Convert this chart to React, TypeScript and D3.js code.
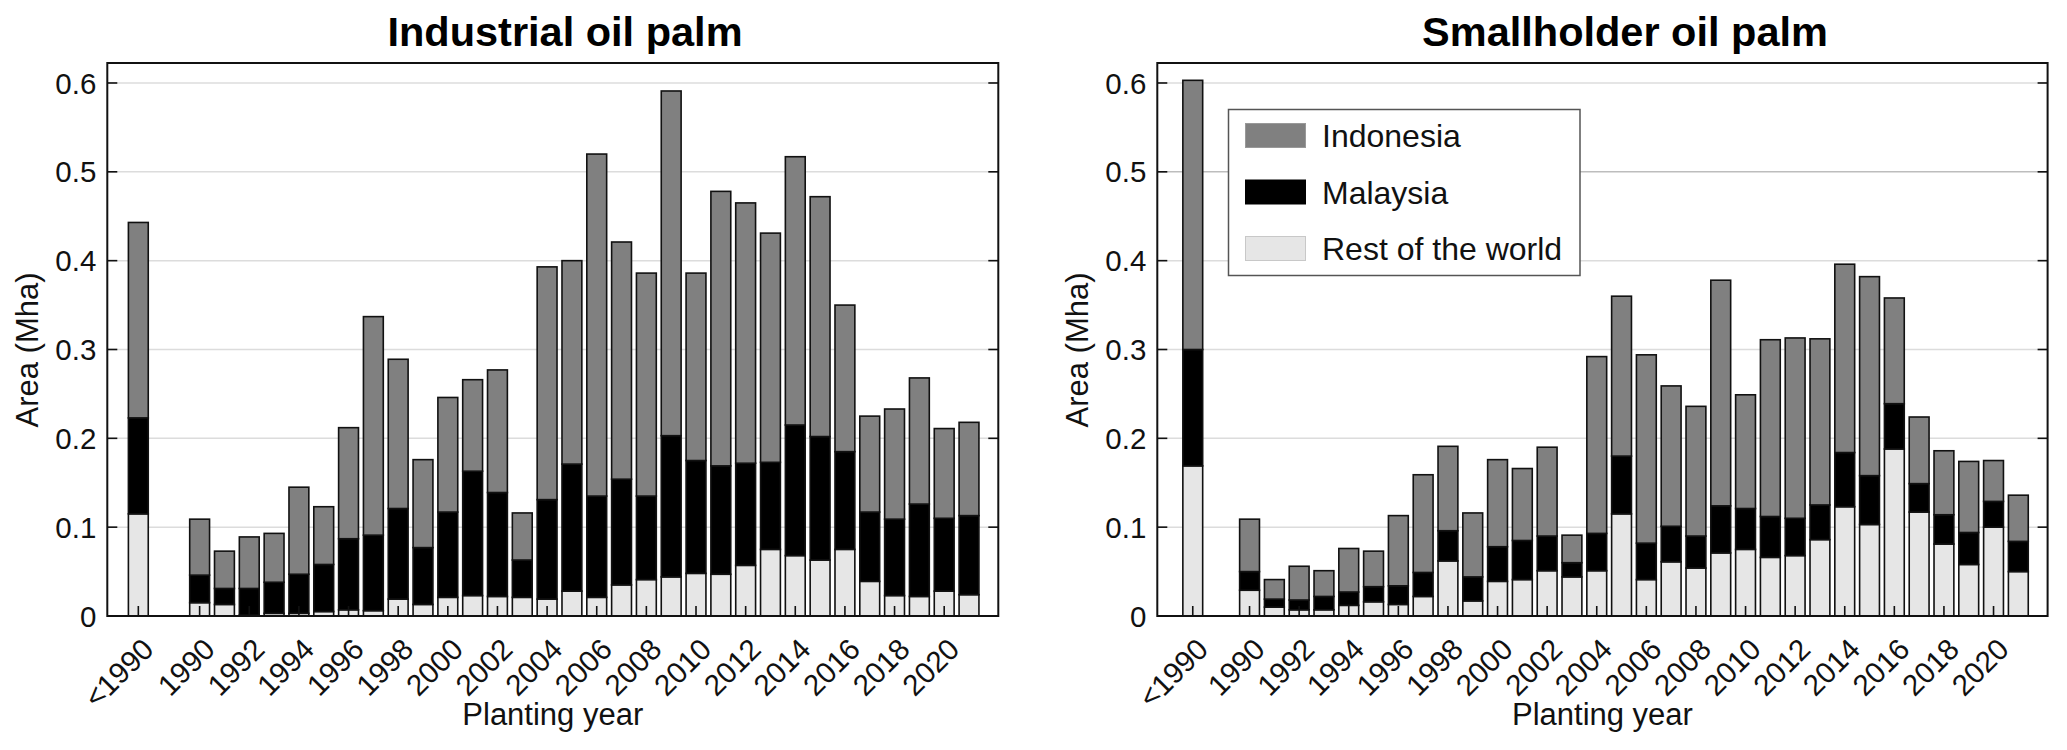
import React from "react";
import * as d3 from "d3";

const years = ["<1990", ...d3.range(1990, 2022).map(String)];
const tickYears = ["<1990", ...d3.range(1990, 2021, 2).map(String)];
const yTicks = [0, 0.1, 0.2, 0.3, 0.4, 0.5, 0.6];
const seriesNames = ["Indonesia", "Malaysia", "Rest of the world"];

const indRest = [0.115, 0.015, 0.013, 0.001, 0.003, 0.003, 0.005, 0.007, 0.006, 0.019, 0.013, 0.021, 0.023, 0.022, 0.021, 0.019, 0.028, 0.021, 0.035, 0.041, 0.044, 0.048, 0.047, 0.057, 0.075, 0.068, 0.063, 0.075, 0.039, 0.023, 0.022, 0.028, 0.024];
const indMalaysia = [0.108, 0.031, 0.018, 0.030, 0.035, 0.044, 0.053, 0.080, 0.085, 0.102, 0.064, 0.096, 0.140, 0.117, 0.042, 0.112, 0.143, 0.114, 0.119, 0.094, 0.159, 0.127, 0.122, 0.115, 0.098, 0.147, 0.139, 0.110, 0.078, 0.086, 0.104, 0.082, 0.089];
const indIndonesia = [0.220, 0.063, 0.042, 0.058, 0.055, 0.098, 0.065, 0.125, 0.246, 0.168, 0.099, 0.129, 0.103, 0.138, 0.053, 0.262, 0.229, 0.385, 0.267, 0.251, 0.388, 0.211, 0.309, 0.293, 0.258, 0.302, 0.270, 0.165, 0.108, 0.124, 0.142, 0.101, 0.105];

const smRest = [0.169, 0.029, 0.010, 0.007, 0.007, 0.012, 0.016, 0.013, 0.022, 0.062, 0.017, 0.039, 0.041, 0.051, 0.044, 0.051, 0.115, 0.041, 0.061, 0.054, 0.071, 0.075, 0.066, 0.068, 0.086, 0.123, 0.103, 0.188, 0.117, 0.081, 0.058, 0.100, 0.050];
const smMalaysia = [0.131, 0.021, 0.009, 0.011, 0.015, 0.015, 0.017, 0.021, 0.027, 0.034, 0.027, 0.039, 0.044, 0.039, 0.016, 0.042, 0.065, 0.041, 0.040, 0.036, 0.053, 0.046, 0.046, 0.042, 0.039, 0.061, 0.055, 0.051, 0.032, 0.033, 0.036, 0.029, 0.034];
const smIndonesia = [0.303, 0.059, 0.022, 0.038, 0.029, 0.049, 0.040, 0.079, 0.110, 0.095, 0.072, 0.098, 0.081, 0.100, 0.031, 0.199, 0.180, 0.212, 0.158, 0.146, 0.254, 0.128, 0.199, 0.203, 0.187, 0.212, 0.224, 0.119, 0.075, 0.072, 0.080, 0.046, 0.052];

const COLORS: Record<string, string> = {
  Indonesia: "#808080",
  Malaysia: "#000000",
  "Rest of the world": "#e6e6e6",
};

const FONT = "'Liberation Sans', Arial, Helvetica, sans-serif";
const TICK_FS = 29.5;
const LABEL_FS = 31;

type PanelProps = {
  title: string;
  rest: number[];
  mal: number[];
  indo: number[];
  left: number;
  right: number;
  prePos: number;
  titleX: number;
  legend?: boolean;
  darkGrid?: number;
};

function Panel({ title, rest, mal, indo, left, right, prePos, titleX, legend, darkGrid }: PanelProps) {
  const top = 63;
  const bottom = 616;
  const pos = (k: string) => (k === "<1990" ? prePos : +k);
  const x = d3.scaleLinear().domain([1986.28, 2022.18]).range([left, right]);
  const y = d3.scaleLinear().domain([0, 0.6225]).range([bottom, top]);
  const bw = x(1990.8) - x(1990);

  const rows = years.map((k, i) => ({
    key: k,
    "Rest of the world": rest[i],
    Malaysia: mal[i],
    Indonesia: indo[i],
  }));
  const stack = d3
    .stack<any>()
    .keys(["Rest of the world", "Malaysia", "Indonesia"])(rows);

  const cx = (left + right) / 2;

  return (
    <g>
      {yTicks.filter((t) => t > 0).map((t) => (
        <line
          key={"g" + t}
          x1={left}
          x2={right}
          y1={y(t)}
          y2={y(t)}
          stroke={darkGrid === t ? "#bdbdbd" : "#dcdcdc"}
          strokeWidth={1.5}
        />
      ))}
      {stack.map((layer) => (
        <g key={layer.key}>
          {layer.map((d, i) => (
            <rect
              key={i}
              x={x(pos(years[i])) - bw / 2}
              y={y(d[1])}
              width={bw}
              height={Math.max(0, y(d[0]) - y(d[1]))}
              fill={COLORS[layer.key]}
              stroke="#111"
              strokeWidth={1.6}
            />
          ))}
        </g>
      ))}
      <rect x={left} y={top} width={right - left} height={bottom - top} fill="none" stroke="#111" strokeWidth={2} />
      {yTicks.map((t) => (
        <g key={"yt" + t}>
          <line x1={left} x2={left + 10} y1={y(t)} y2={y(t)} stroke="#111" strokeWidth={1.6} />
          <line x1={right - 10} x2={right} y1={y(t)} y2={y(t)} stroke="#111" strokeWidth={1.6} />
          <text x={left - 11} y={y(t)} dy="0.36em" textAnchor="end" fontSize={TICK_FS} fontFamily={FONT} fill="#111">
            {t === 0 ? "0" : d3.format(".1f")(t)}
          </text>
        </g>
      ))}
      {tickYears.map((k) => (
        <g key={"xt" + k}>
          <line x1={x(pos(k))} x2={x(pos(k))} y1={bottom} y2={bottom - 10} stroke="#111" strokeWidth={1.6} />
          <text
            transform={`translate(${x(pos(k)) + 2},${bottom + 20}) rotate(-45)`}
            dy="0.72em"
            textAnchor="end"
            fontSize={TICK_FS}
            fontFamily={FONT}
            fill="#111"
          >
            {k}
          </text>
        </g>
      ))}
      <text x={titleX} y={46} textAnchor="middle" fontSize={41.5} fontWeight="bold" fontFamily={FONT} fill="#000">
        {title}
      </text>
      <text x={cx} y={725} textAnchor="middle" fontSize={LABEL_FS} fontFamily={FONT} fill="#111">
        Planting year
      </text>
      <text
        transform={`translate(${left - 69},350) rotate(-90)`}
        textAnchor="middle"
        fontSize={LABEL_FS}
        fontFamily={FONT}
        fill="#111"
      >
        Area (Mha)
      </text>
      {legend && (
        <g>
          <rect x={1228.5} y={109.5} width={351.5} height={166} fill="#fff" stroke="#555" strokeWidth={1.5} />
          {seriesNames.map((s, i) => (
            <g key={s} transform={`translate(0,${i * 56.5})`}>
              <rect
                x={1245.5}
                y={123.5}
                width={60}
                height={24}
                fill={COLORS[s]}
                stroke={s === "Rest of the world" ? "#c8c8c8" : s === "Indonesia" ? "#999" : "#000"}
                strokeWidth={1}
              />
              <text x={1322} y={147} fontSize={32} fontFamily={FONT} fill="#111">
                {s}
              </text>
            </g>
          ))}
        </g>
      )}
    </g>
  );
}

export default function App() {
  return (
    <svg width={2067} height={750} style={{ display: "block", position: "absolute", left: 0, top: 0, background: "#fff" }}>
      <rect x={0} y={0} width={2067} height={750} fill="#fff" />
      <Panel
        title="Industrial oil palm"
        rest={indRest}
        mal={indMalaysia}
        indo={indIndonesia}
        left={107.3}
        right={998.3}
        prePos={1987.53}
        titleX={565}
      />
      <Panel
        title="Smallholder oil palm"
        rest={smRest}
        mal={smMalaysia}
        indo={smIndonesia}
        left={1157.3}
        right={2047.6}
        prePos={1987.71}
        titleX={1625}
        legend
        darkGrid={0.5}
      />
    </svg>
  );
}
